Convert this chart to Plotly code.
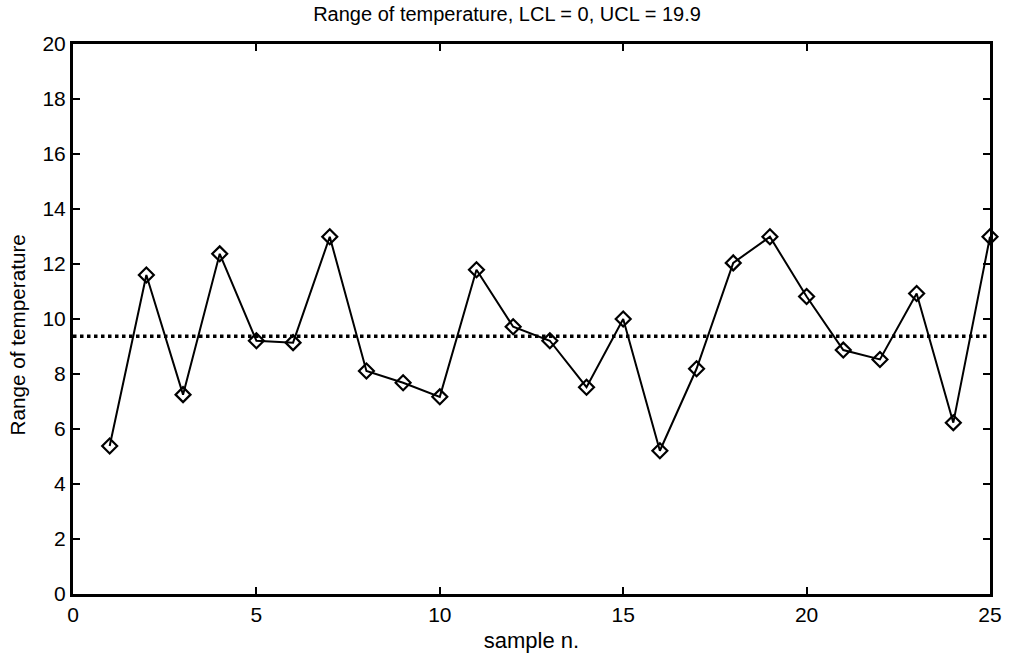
import plotly.graph_objects as go

samples = list(range(1, 26))
ranges = [5.38, 11.6, 7.25, 12.37, 9.21, 9.14, 12.99, 8.11, 7.68, 7.17,
          11.79, 9.72, 9.21, 7.52, 10.0, 5.21, 8.19, 12.04, 12.99, 10.82,
          8.87, 8.53, 10.93, 6.23, 12.99]
center_line = 9.37
x_ticks = [0, 5, 10, 15, 20, 25]
y_ticks = list(range(0, 21, 2))

fig = go.Figure()
fig.add_trace(go.Scatter(
    x=[0, 25], y=[center_line, center_line], mode="lines",
    line=dict(color="black", width=3.5, dash="dot"), showlegend=False,
    hoverinfo="skip"))
fig.add_trace(go.Scatter(
    x=samples, y=ranges, mode="lines+markers",
    line=dict(color="black", width=2),
    marker=dict(symbol="diamond-open", size=11.5, color="black",
                line=dict(width=2.2, color="black")),
    showlegend=False, cliponaxis=False))

fam = "Liberation Sans, Arial, sans-serif"
fig.update_layout(
    width=1014, height=662,
    margin=dict(l=73, r=18, t=44, b=68),
    paper_bgcolor="white", plot_bgcolor="white",
    font=dict(family=fam, size=20, color="black"),
    title=dict(text="Range of temperature, LCL = 0, UCL = 19.9",
               x=0.5, xanchor="center", y=0.979, yanchor="middle",
               font=dict(size=20, family=fam, color="black")),
    annotations=[dict(text="Range of temperature", textangle=-90,
                      xref="paper", yref="paper", x=-0.0595, y=0.471,
                      xanchor="center", yanchor="middle", showarrow=False,
                      font=dict(size=20.7, family=fam, color="black"))],
)
fig.update_xaxes(
    range=[0, 25], tickvals=x_ticks, showgrid=False, zeroline=False,
    showline=True, linecolor="black", linewidth=3, mirror="ticks",
    ticks="inside", ticklen=7, tickwidth=2, tickcolor="black",
    title=dict(text="sample n.", standoff=8, font=dict(size=22, family=fam)),
    tickfont=dict(size=21, family=fam))
fig.update_yaxes(
    range=[0, 20], tickvals=y_ticks, showgrid=False, zeroline=False,
    showline=True, linecolor="black", linewidth=3, mirror="ticks",
    ticks="inside", ticklen=7, tickwidth=2, tickcolor="black",
    tickfont=dict(size=21, family=fam))

fig.write_html("out.html")
